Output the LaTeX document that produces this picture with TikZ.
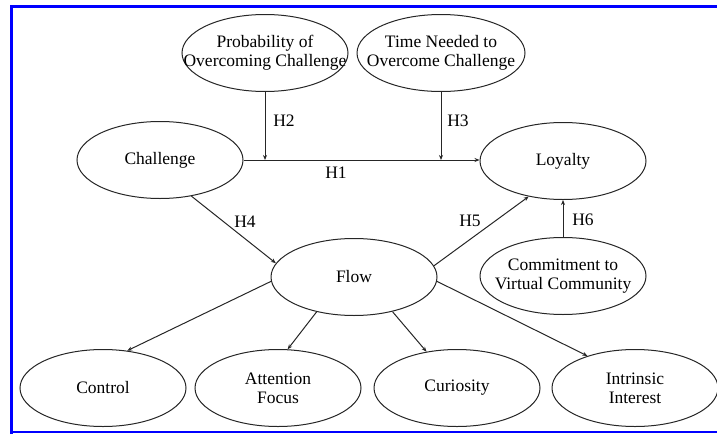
\documentclass[tikz,border=0pt]{standalone}
\usepackage{fontspec}
\setmainfont{Liberation Serif}
\usetikzlibrary{shapes.geometric,arrows.meta}
\begin{document}
\begin{tikzpicture}[x=1pt,y=-1pt,
  txt/.style={font=\fontsize{17.5}{19}\selectfont},
  construct/.style={ellipse,draw=black!85,line width=1pt,inner sep=0pt,
    minimum width=166pt,minimum height=77pt,
    label={[txt,align=center,inner sep=0pt]center:#1}},
  link/.style={draw=black!85,line width=1pt,-{Stealth[length=5pt,width=4pt]}},
  hlabel/.style={txt,inner sep=0pt},
  frame/.style={draw=blue,line cap=rect}]
\useasboundingbox (0,0) rectangle (717,434);
% frame
\draw[frame,line width=3pt] (11.5,6.5) -- (717,6.5);
\draw[frame,line width=3pt] (11.5,6.5) -- (11.5,432);
\draw[frame,line width=2pt] (11.5,432) -- (717,432);

% constructs
\node[construct={Probability of\\Overcoming Challenge}] (prob) at (265,53) {};
\node[construct={Time Needed to\\Overcome Challenge},minimum width=168pt] (time) at (441,53) {};
\node[construct={Challenge}] (ch) at (160,160) {};
\node[construct={Loyalty}] (loy) at (563,161) {};
\node[construct={Flow}] (flow) at (354,277) {};
\node[construct={Commitment to\\Virtual Community}] (com) at (563,276) {};
\node[construct={Control}] (ctrl) at (103,388) {};
\node[construct={Attention\\Focus}] (att) at (278,388) {};
\node[construct={Curiosity}] (cur) at (457,388) {};
\node[construct={Intrinsic\\Interest}] (intr) at (635,388) {};

% moderating paths meet the H1 path
\coordinate (j2) at (prob.south |- ch.east);
\coordinate (j3) at (time.south |- ch.east);

\draw[link] (ch.east) -- (ch.east -| loy.west);
\draw[link] (prob.south) -- (j2);
\draw[link] (time.south) -- (j3);
\draw[link] (ch.-49) -- (flow.170);
\draw[link] (flow.8) -- (loy.226);
\draw[link] (com.north) -- (loy.south);
\draw[link] (flow.183) -- (ctrl.57);
\draw[link] (flow.223) -- (att.76);
\draw[link] (flow.-42) -- (cur.130);
\draw[link] (flow.-3) -- (intr.146);

% hypothesis labels
\node[hlabel] (h1) at (336,173) {H1};
\node[hlabel] (h2) at (284,121) {H2};
\node[hlabel] (h3) at (458,121) {H3};
\node[hlabel] (h4) at (245,222) {H4};
\node[hlabel] (h5) at (470,221) {H5};
\node[hlabel] (h6) at (583,220) {H6};
\end{tikzpicture}
\end{document}
